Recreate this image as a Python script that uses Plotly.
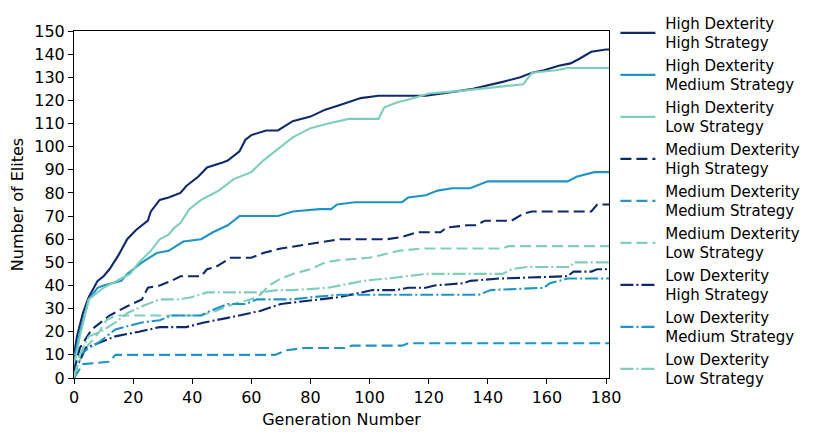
import plotly.graph_objects as go

# ---- data ----
names = [
    "High Dexterity<br>High Strategy",
    "High Dexterity<br>Medium Strategy",
    "High Dexterity<br>Low Strategy",
    "Medium Dexterity<br>High Strategy",
    "Medium Dexterity<br>Medium Strategy",
    "Medium Dexterity<br>Low Strategy",
    "Low Dexterity<br>High Strategy",
    "Low Dexterity<br>Medium Strategy",
    "Low Dexterity<br>Low Strategy",
]

hh_gen = [0, 1, 3, 5, 8, 10, 12, 15, 18, 21, 25, 26, 29, 32, 36, 38, 42, 45, 50, 52, 56, 58, 60, 65, 69, 74, 80, 85, 90, 97, 103, 119, 130, 135, 145, 151, 155, 159, 164, 168, 171, 175, 180, 181]
hh_val = [10, 18, 28, 35, 42, 44, 47, 53, 60, 64, 68, 72, 77, 78, 80, 83, 87, 91, 93, 94, 98, 103, 105, 107, 107, 111, 113, 116, 118, 121, 122, 122, 124, 125, 128, 130, 132, 133, 135, 136, 138, 141, 142, 142]

hm_gen = [0, 2, 5, 8, 10, 16, 18, 23, 28, 32, 37, 43, 47, 52, 56, 69, 74, 83, 87, 89, 95, 111, 113, 119, 123, 128, 134, 140, 167, 170, 176, 181]
hm_val = [8, 20, 34, 39, 40, 42, 45, 50, 54, 55, 59, 60, 63, 66, 70, 70, 72, 73, 73, 75, 76, 76, 78, 79, 81, 82, 82, 85, 85, 87, 89, 89]

hl_gen = [0, 2, 5, 10, 16, 19, 22, 26, 29, 32, 34, 36, 39, 43, 46, 49, 54, 60, 64, 69, 74, 80, 86, 93, 103, 105, 109, 115, 120, 130, 137, 152, 155, 163, 167, 181]
hl_val = [5, 18, 34, 39, 43, 45, 50, 55, 60, 62, 65, 67, 73, 77, 79, 81, 86, 89, 94, 99, 104, 108, 110, 112, 112, 117, 119, 121, 123, 124, 125, 127, 132, 133, 134, 134]

mh_gen = [0, 2, 6, 12, 18, 23, 25, 29, 33, 36, 43, 45, 48, 53, 60, 64, 70, 80, 90, 106, 111, 116, 124, 126, 133, 136, 139, 148, 152, 155, 175, 177, 181]
mh_val = [3, 13, 21, 27, 31, 34, 39, 40, 42, 44, 44, 47, 48, 52, 52, 54, 56, 58, 60, 60, 61, 63, 63, 65, 66, 66, 68, 68, 71, 72, 72, 75, 75]

mm_gen = [0, 1, 3, 12, 14, 68, 72, 78, 92, 94, 111, 113, 181]
mm_val = [0, 2, 6, 7, 10, 10, 12, 13, 13, 14, 14, 15, 15]

ml_gen = [0, 1, 4, 8, 11, 14, 43, 48, 54, 60, 63, 66, 70, 74, 80, 85, 90, 100, 110, 118, 145, 147, 181]
ml_val = [0, 5, 13, 19, 25, 27, 27, 29, 32, 34, 36, 40, 43, 45, 47, 50, 51, 52, 55, 56, 56, 57, 57]

lh_gen = [0, 1, 4, 10, 14, 22, 29, 38, 44, 52, 56, 63, 70, 77, 83, 90, 101, 109, 113, 119, 122, 132, 134, 144, 167, 169, 175, 177, 181]
lh_val = [0, 5, 13, 16, 18, 20, 22, 22, 24, 26, 27, 29, 32, 33, 34, 35, 38, 38, 39, 39, 40, 41, 42, 43, 44, 46, 46, 47, 47]

lm_gen = [0, 2, 5, 8, 14, 23, 29, 33, 43, 46, 52, 58, 62, 74, 81, 90, 137, 141, 159, 161, 167, 181]
lm_val = [0, 10, 13, 15, 21, 24, 25, 27, 27, 29, 32, 32, 34, 34, 35, 36, 36, 38, 39, 41, 43, 43]

ll_gen = [0, 2, 5, 9, 14, 18, 23, 29, 36, 40, 45, 52, 63, 69, 74, 86, 90, 98, 106, 119, 145, 148, 153, 168, 169, 181]
ll_val = [0, 10, 18, 20, 24, 28, 31, 34, 34, 35, 37, 37, 37, 38, 38, 39, 40, 42, 43, 45, 45, 47, 48, 48, 50, 50]

x_ticks = list(range(0, 181, 20))
y_ticks = list(range(0, 151, 10))

# ---- styles ----
NAVY = "#0f2a6b"
MID = "#2193c6"
TEAL = "#7fcdbb"
DASH = "11px,5px"
DASHDOT = "13px,3px,2px,3px"

series = [
    (hh_gen, hh_val, NAVY, "solid"),
    (hm_gen, hm_val, MID, "solid"),
    (hl_gen, hl_val, TEAL, "solid"),
    (mh_gen, mh_val, NAVY, DASH),
    (mm_gen, mm_val, MID, DASH),
    (ml_gen, ml_val, TEAL, DASH),
    (lh_gen, lh_val, NAVY, DASHDOT),
    (lm_gen, lm_val, MID, DASHDOT),
    (ll_gen, ll_val, TEAL, DASHDOT),
]

NB = "\u00a0"  # small gap between legend sample and text


def legend_label(s):
    return "<br>".join(NB + part for part in s.split("<br>"))


fig = go.Figure()
for i, (name, (gx, gy, col, dash)) in enumerate(zip(names, series)):
    fig.add_trace(go.Scatter(
        x=gx, y=gy, mode="lines", name=legend_label(name), legendgroup=f"g{i}",
        line=dict(color=col, width=2.1, dash=dash),
    ))

FONT = "DejaVu Sans"
FS = 16
fig.update_layout(
    width=822, height=431,
    margin=dict(l=66, r=221, t=23, b=61, autoexpand=False),
    paper_bgcolor="white", plot_bgcolor="white",
    font=dict(family=FONT, size=FS, color="black"),
    legend=dict(
        x=1.012, y=1.0695, xanchor="left", yanchor="top",
        traceorder="grouped", tracegroupgap=0,
        font=dict(family=FONT, size=15, color="black"),
        itemwidth=35, bgcolor="rgba(0,0,0,0)", maxheight=1,
    ),
    xaxis=dict(
        range=[0, 181], tickvals=x_ticks, ticks="outside", ticklen=5,
        tickcolor="black", showline=True, linecolor="black", linewidth=1,
        mirror=True, showgrid=False, zeroline=False, automargin=False,
        title=dict(text="Generation Number", font=dict(size=FS), standoff=7),
        tickfont=dict(size=FS),
    ),
    yaxis=dict(
        range=[0, 150], tickvals=y_ticks, ticks="outside", ticklen=5,
        tickcolor="black", showline=True, linecolor="black", linewidth=1,
        mirror=True, showgrid=False, zeroline=False, automargin=False,
        title=dict(text="Number of Elites", font=dict(size=FS), standoff=6),
        tickfont=dict(size=FS),
    ),
)

fig.write_html("out.html")
